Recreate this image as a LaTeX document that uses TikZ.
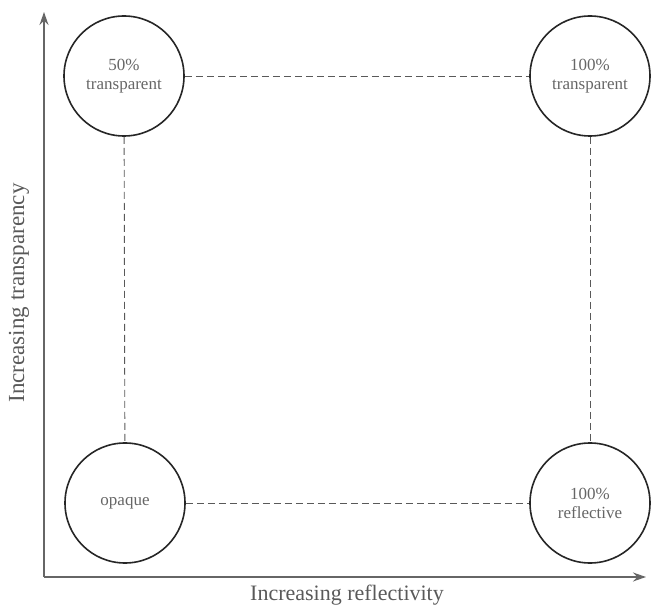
\documentclass[tikz,border=0pt]{standalone}
\usepackage{fontspec}
\setmainfont{Liberation Serif}
\usetikzlibrary{arrows.meta}
\begin{document}
\begin{tikzpicture}[x=1pt,y=1pt,
    state/.style={circle,draw=black!85,line width=1.6pt,minimum size=120pt,
        inner sep=0pt,align=center,text=black!60,
        font=\fontsize{17}{19}\selectfont},
    link/.style={dashed,draw=black!65,line width=0.9pt,dash pattern=on 7pt off 4pt},
    axis/.style={draw=black!60,line width=1.3pt,
        -{Stealth[length=13pt,width=9pt]}},
    lbl/.style={text=black!65,font=\fontsize{22}{24}\selectfont}]

    \useasboundingbox (0,0) rectangle (654,606);

    \coordinate (o) at (44,29);
    \coordinate (ytop) at (44,594);
    \coordinate (xend) at (646,29);

    \node[state] (half) at (124,530) {50\%\\transparent};
    \node[state] (trans) at (590,530) {100\%\\transparent};
    \node[state] (opaque) at (125,103) {opaque};
    \node[state] (refl) at (590,103) {100\%\\reflective};

    \draw[link] (half) -- (trans);
    \draw[link] (half) -- (opaque);
    \draw[link] (trans) -- (refl);
    \draw[link] (opaque) -- (refl);

    \draw[axis] (o) -- (ytop);
    \draw[axis] (o) -- (xend);

    \node[lbl] (xlab) at (347,11) {Increasing reflectivity};
    \node[lbl,rotate=90,font=\fontsize{23}{25}\selectfont] (ylab) at (19,313) {Increasing transparency};
\end{tikzpicture}
\end{document}
